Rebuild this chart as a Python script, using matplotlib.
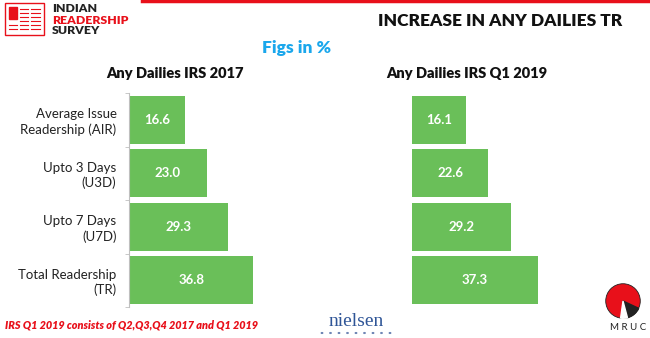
import matplotlib.pyplot as plt
from matplotlib.patches import Rectangle, Circle, Wedge
from matplotlib.lines import Line2D

categories = ["Average Issue\nReadership (AIR)", "Upto 3 Days\n(U3D)",
              "Upto 7 Days\n(U7D)", "Total Readership\n(TR)"]
irs_2017 = [16.6, 23.0, 29.3, 36.8]
irs_q1_2019 = [16.1, 22.6, 29.2, 37.3]
panel_titles = ["Any Dailies IRS 2017", "Any Dailies IRS Q1 2019"]

GREEN = "#6abf59"
RED = "#e8101a"
W, H = 650, 338

plt.rcParams['font.family'] = ['Lato', 'DejaVu Sans']

fig = plt.figure(figsize=(6.5, 3.38), dpi=100)


def fx(x):
    return x / W


def fy(y):
    return 1 - y / H


def draw_panel(left, values, show_labels):
    ax = fig.add_axes([fx(left), fy(307), 135 / W, 214 / H])
    pos = range(len(values))
    ax.barh(pos, values, height=0.9, color=GREEN)
    ax.set_xlim(0, 40)
    ax.set_ylim(3.5, -0.5)
    for i, v in enumerate(values):
        ax.text(v / 2, i, f"{v:.1f}", color="white", fontsize=9.5,
                fontweight="bold", ha="center", va="center")
    ax.set_xticks([])
    for s in ["top", "right", "bottom"]:
        ax.spines[s].set_visible(False)
    if show_labels:
        ax.spines["left"].set_color("#bfbfbf")
        ax.spines["left"].set_linewidth(0.8)
        ax.set_yticks(list(pos))
        ax.set_yticklabels(categories, fontsize=9.5, color="#222222",
                           ha="right", linespacing=1.25)
        ax.tick_params(axis="y", which="major", length=0, pad=9)
        ax.set_yticks([-0.5, 0.5, 1.5, 2.5, 3.5], minor=True)
        ax.tick_params(axis="y", which="minor", length=3, color="#bfbfbf")
    else:
        ax.spines["left"].set_visible(False)
        ax.set_yticks([])
    return ax


draw_panel(129, irs_2017, True)
draw_panel(412, irs_q1_2019, False)

# titles
fig.text(fx(500), fy(21), "INCREASE IN ANY DAILIES TR", fontsize=12.5,
         fontweight="heavy", ha="center", va="center", color="#111111")
fig.text(fx(297), fy(48), "Figs in %", fontsize=12.5, fontweight="heavy",
         ha="center", va="center", color="#1aa7ec")
fig.text(fx(175), fy(74), panel_titles[0], fontsize=10.5, fontweight="heavy",
         ha="center", va="center", color="#111111")
fig.text(fx(467), fy(74), panel_titles[1], fontsize=10.5, fontweight="heavy",
         ha="center", va="center", color="#111111")

# top red rule
fig.add_artist(Line2D([fx(142), 1], [fy(1), fy(1)], color=RED, lw=2.5))

# IRS logo
fig.add_artist(Rectangle((fx(5), fy(35)), 39 / W, 32 / H, fill=False,
                         ec=RED, lw=1.0))
fig.add_artist(Rectangle((fx(9), fy(19)), 8 / W, 12 / H, color=RED))
for yy in [9, 13, 17, 21, 25, 29]:
    fig.add_artist(Line2D([fx(20), fx(28)], [fy(yy), fy(yy)], color=RED, lw=0.8))
    fig.add_artist(Line2D([fx(31), fx(40)], [fy(yy), fy(yy)], color=RED, lw=0.8))
for yy in [25, 29]:
    fig.add_artist(Line2D([fx(9), fx(17)], [fy(yy), fy(yy)], color=RED, lw=0.8))
fig.text(fx(52), fy(9), "INDIAN", fontsize=8.8, fontweight="heavy",
         color="#222222", va="center")
fig.text(fx(52), fy(20), "READERSHIP", fontsize=8.8, fontweight="heavy",
         color=RED, va="center")
fig.text(fx(52), fy(31), "SURVEY", fontsize=8.8, fontweight="heavy",
         color="#222222", va="center")

# footnote
fig.text(fx(5), fy(325), "IRS Q1 2019 consists of Q2,Q3,Q4 2017 and Q1 2019",
         fontsize=7.8, fontweight="heavy", fontstyle="italic", color=RED,
         va="center")

# nielsen
fig.text(fx(356), fy(321), "nielsen", fontsize=14, family="Liberation Serif",
         color="#2f5597", ha="center", va="center")
for k in range(9):
    xx = 322 + k * 8.5
    fig.add_artist(Circle((fx(xx), fy(333)), 0.7 / W, color="#6f86b5"))

# MRUC logo
lax = fig.add_axes([fx(604), fy(320), 38 / W, 38 / H])
lax.set_xlim(-1.1, 1.1)
lax.set_ylim(-1.1, 1.1)
lax.set_aspect("equal")
lax.axis("off")
lax.add_patch(Circle((0, 0), 1, color=RED, ec="#222222", lw=0.6))
lax.add_patch(Wedge((0, 0), 1, 285, 335, color="#222222"))
lax.add_patch(Wedge((0, 0), 1, 262, 285, color="white"))
fig.text(fx(628), fy(327), "M R U C", fontsize=7, color="#222222",
         ha="center", va="center")

fig.savefig("out.png", dpi=100)
